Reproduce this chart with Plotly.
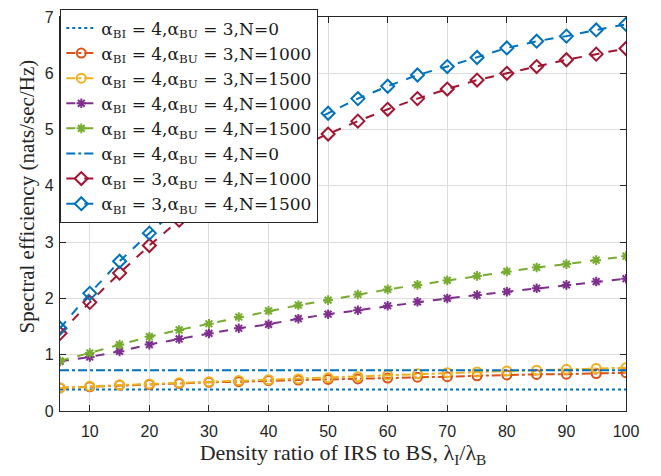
import plotly.graph_objects as go

# Density ratio of IRS to BS
ratio = [5, 10, 15, 20, 25, 30, 35, 40, 45, 50, 55, 60, 65, 70, 75, 80, 85, 90, 95, 100]

# Spectral efficiency (nats/sec/Hz) for each configuration
se_bi4_bu3_n0 = [0.38, 0.38, 0.38, 0.38, 0.38, 0.38, 0.38, 0.38, 0.38, 0.38,
                 0.38, 0.38, 0.38, 0.38, 0.38, 0.38, 0.38, 0.38, 0.38, 0.38]
se_bi4_bu3_n1000 = [0.41, 0.43, 0.46, 0.47, 0.49, 0.51, 0.52, 0.54, 0.55, 0.56,
                    0.57, 0.585, 0.60, 0.61, 0.625, 0.64, 0.65, 0.655, 0.665, 0.68]
se_bi4_bu3_n1500 = [0.41, 0.44, 0.46, 0.48, 0.50, 0.52, 0.54, 0.555, 0.57, 0.59,
                    0.61, 0.64, 0.66, 0.68, 0.695, 0.71, 0.725, 0.74, 0.755, 0.77]
se_bi4_bu4_n1000 = [0.88, 0.96, 1.06, 1.18, 1.28, 1.38, 1.47, 1.54, 1.64, 1.72,
                    1.79, 1.87, 1.94, 2.00, 2.06, 2.12, 2.18, 2.24, 2.30, 2.35]
se_bi4_bu4_n1500 = [0.89, 1.03, 1.18, 1.32, 1.44, 1.55, 1.67, 1.78, 1.88, 1.97,
                    2.07, 2.16, 2.24, 2.32, 2.40, 2.48, 2.55, 2.61, 2.68, 2.75]
se_bi4_bu4_n0 = [0.725, 0.725, 0.725, 0.725, 0.725, 0.725, 0.725, 0.725, 0.725, 0.725,
                 0.725, 0.725, 0.725, 0.725, 0.725, 0.725, 0.725, 0.725, 0.725, 0.725]
se_bi3_bu4_n1000 = [1.38, 1.93, 2.45, 2.94, 3.39, 3.79, 4.13, 4.43, 4.69, 4.92,
                    5.15, 5.36, 5.55, 5.72, 5.88, 6.00, 6.12, 6.24, 6.34, 6.44]
se_bi3_bu4_n1500 = [1.47, 2.09, 2.66, 3.16, 3.62, 4.04, 4.41, 4.74, 5.03, 5.29,
                    5.55, 5.77, 5.97, 6.12, 6.28, 6.45, 6.57, 6.66, 6.77, 6.87]

labels = [
    "α<sub>BI</sub> = 4,α<sub>BU</sub> = 3,N=0",
    "α<sub>BI</sub> = 4,α<sub>BU</sub> = 3,N=1000",
    "α<sub>BI</sub> = 4,α<sub>BU</sub> = 3,N=1500",
    "α<sub>BI</sub> = 4,α<sub>BU</sub> = 4,N=1000",
    "α<sub>BI</sub> = 4,α<sub>BU</sub> = 4,N=1500",
    "α<sub>BI</sub> = 4,α<sub>BU</sub> = 4,N=0",
    "α<sub>BI</sub> = 3,α<sub>BU</sub> = 4,N=1000",
    "α<sub>BI</sub> = 3,α<sub>BU</sub> = 4,N=1500",
]

series = [se_bi4_bu3_n0, se_bi4_bu3_n1000, se_bi4_bu3_n1500, se_bi4_bu4_n1000,
          se_bi4_bu4_n1500, se_bi4_bu4_n0, se_bi3_bu4_n1000, se_bi3_bu4_n1500]
colors = ["#0072BD", "#D95319", "#EDB120", "#7E2F8E",
          "#77AC30", "#0072BD", "#A2142F", "#0072BD"]
dashes = ["dot", "dashdot", "dashdot", "dash", "dash", "dashdot", "dash", "dash"]
symbols = [None, "circle-open", "circle-open", "asterisk-open", "asterisk-open",
           None, "diamond-open", "diamond-open"]
msizes = [0, 9, 9, 8, 8, 0, 10, 10]

serif = "Liberation Serif, Times New Roman, serif"
sans = "Liberation Sans, Arial, sans-serif"

fig = go.Figure()
for y, name, c, d, s, ms in zip(series, labels, colors, dashes, symbols, msizes):
    if s is None:
        fig.add_trace(go.Scatter(x=ratio, y=y, name=name, mode="lines",
                                 line=dict(color=c, dash=d, width=2)))
    else:
        fig.add_trace(go.Scatter(x=ratio, y=y, name=name, mode="lines+markers",
                                 line=dict(color=c, dash=d, width=2),
                                 marker=dict(symbol=s, size=ms, color=c,
                                             line=dict(color=c, width=2))))

axis_common = dict(
    showline=True, linecolor="#262626", linewidth=1.3, mirror="ticks",
    ticks="inside", ticklen=6, tickcolor="#262626",
    showgrid=True, gridcolor="#dedede", gridwidth=1, zeroline=False,
    tickfont=dict(family=sans, size=16, color="#262626"),
)

fig.update_layout(
    width=661, height=476,
    margin=dict(l=60, r=35, t=9, b=65),
    paper_bgcolor="white", plot_bgcolor="white",
    showlegend=True,
    legend=dict(
        x=0, y=1.02, xanchor="left", yanchor="top",
        bgcolor="white", bordercolor="#262626", borderwidth=1.3,
        font=dict(family="DejaVu Serif, serif", size=17, color="#1a1a1a"),
        tracegroupgap=0, itemwidth=30,
        entrywidth=238, entrywidthmode="pixels",
    ),
    xaxis=dict(range=[5, 100], tickvals=[10, 20, 30, 40, 50, 60, 70, 80, 90, 100],
               ticklabelstandoff=6,
               title=dict(text="Density ratio of IRS to BS, λ<sub>I</sub>/λ<sub>B</sub>",
                          font=dict(family=serif, size=22, color="#262626"), standoff=4),
               **axis_common),
    yaxis=dict(range=[0, 7.0001], tickvals=[0, 1, 2, 3, 4, 5, 6, 7],
               ticklabelstandoff=2,
               **axis_common),
    annotations=[dict(
        text="Spectral efficiency (nats/sec/Hz)", textangle=-90,
        xref="paper", yref="paper", x=-0.058, y=0.545,
        xanchor="center", yanchor="middle", showarrow=False,
        font=dict(family=serif, size=21, color="#262626"),
    )],
)

fig.write_html("out.html")
